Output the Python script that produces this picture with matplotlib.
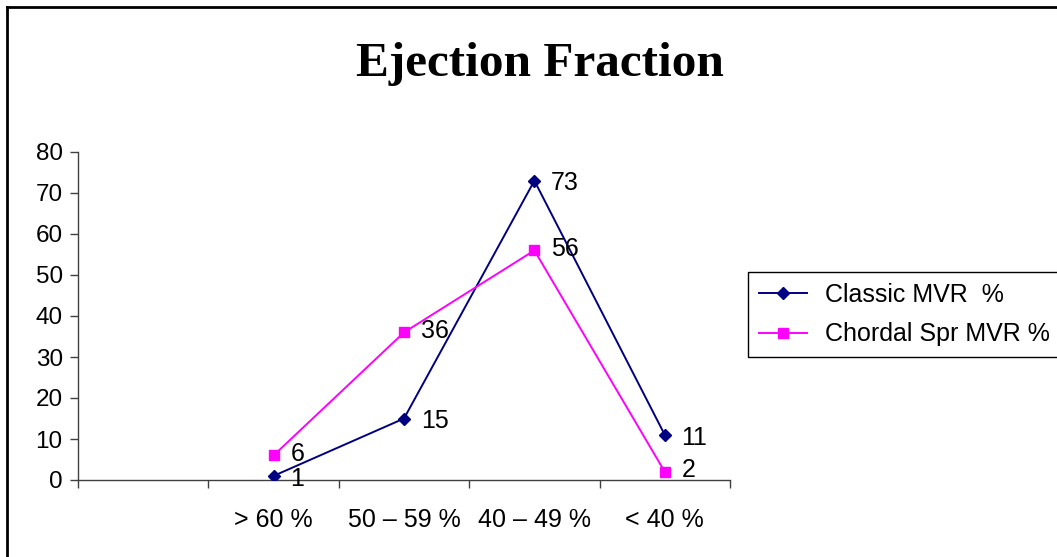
import numpy as np
import matplotlib
matplotlib.use("Agg")
import matplotlib.pyplot as plt
from matplotlib.lines import Line2D

# data
categories = ["", "> 60 %", "50 \u2013 59 %", "40 \u2013 49 %", "< 40 %"]
classic_mvr = [np.nan, 1, 15, 73, 11]
chordal_mvr = [np.nan, 6, 36, 56, 2]
series_names = ["Classic MVR  %", "Chordal Spr MVR %"]

W, H = 1057, 557
fig = plt.figure(figsize=(W / 100, H / 100), dpi=100)
fig.patch.set_facecolor("white")

plt.rcParams["font.family"] = ["Liberation Sans", "DejaVu Sans"]
FS = 18

ax = fig.add_axes([78 / W, 1 - 480 / H, (730 - 78) / W, (480 - 152) / H])
x = np.arange(len(categories))

ax.plot(x, classic_mvr, color="#000080", lw=1.4, marker="D", ms=6.5,
        mec="#000080", mfc="#000080", label=series_names[0], zorder=3)
ax.plot(x, chordal_mvr, color="#FF00FF", lw=1.4, marker="s", ms=7,
        mec="#FF00FF", mfc="#FF00FF", label=series_names[1], zorder=3)

# data labels to the right of each point (classic a touch lower, chordal a
# touch higher so the "6" and "1" near zero don't collide)
for ys, dy in ((classic_mvr, -2), (chordal_mvr, 1)):
    for xi, yi in zip(x, ys):
        if np.isnan(yi):
            continue
        ax.annotate(f"{yi:g}", (xi, yi), xytext=(12, dy),
                    textcoords="offset points", ha="left", va="center",
                    fontsize=FS, color="black", zorder=4)

ax.set_xlim(-0.5, len(categories) - 0.5)
ax.set_ylim(0, 80)
ax.set_yticks(np.arange(0, 81, 10))

# category boundaries as major ticks, labels centered as minor ticks
ax.set_xticks(np.arange(-0.5, len(categories), 1.0))
ax.set_xticklabels([])
ax.set_xticks(x, minor=True)
ax.set_xticklabels(categories, minor=True)
ax.tick_params(axis="x", which="major", direction="out", length=6,
               width=1, color="#404040")
ax.tick_params(axis="x", which="minor", length=0, pad=20, labelsize=FS)
ax.tick_params(axis="y", direction="out", length=6, width=1,
               color="#404040", pad=5, labelsize=17.5)

for side in ("top", "right"):
    ax.spines[side].set_visible(False)
for side in ("left", "bottom"):
    ax.spines[side].set_color("#404040")
    ax.spines[side].set_linewidth(1)

# title
fig.text(540 / W, 1 - 64 / H, "Ejection Fraction", ha="center", va="center",
         fontsize=35.5, fontweight="bold", family="Liberation Serif")

# legend
leg = fig.legend(loc="upper left", bbox_to_anchor=(748 / W, 1 - 272 / H),
                 fontsize=FS, frameon=True, fancybox=False, framealpha=1,
                 edgecolor="black", handlelength=1.95, handletextpad=0.7,
                 labelspacing=0.63, borderpad=0.42, borderaxespad=0)
leg.get_frame().set_linewidth(1)

# chart frame (top and left edges visible)
fig.add_artist(Line2D([7 / W, 7 / W], [0, 1 - 7 / H], transform=fig.transFigure,
                      color="black", lw=2))
fig.add_artist(Line2D([7 / W, 1], [1 - 7 / H, 1 - 7 / H],
                      transform=fig.transFigure, color="black", lw=2))

fig.savefig("out.png", dpi=100, facecolor="white")
